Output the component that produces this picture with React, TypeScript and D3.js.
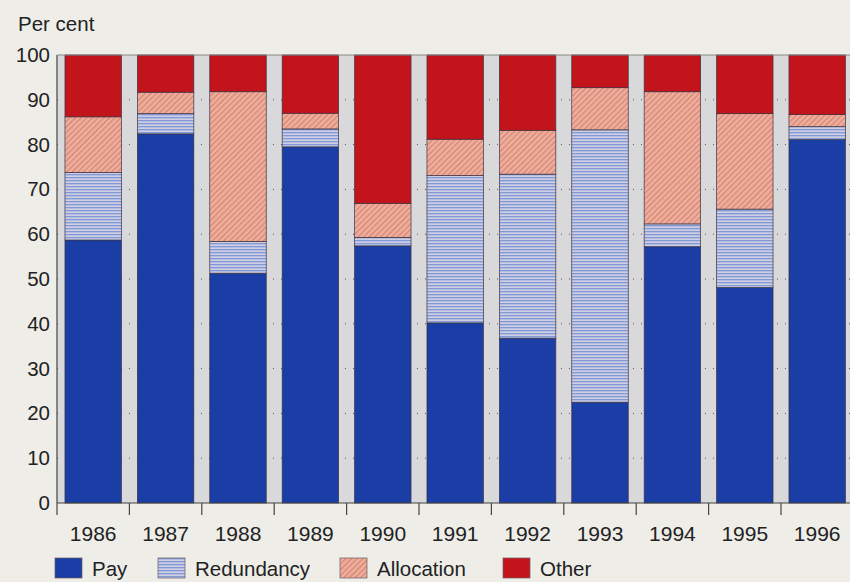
import * as d3 from 'd3';

const years = ['1986', '1987', '1988', '1989', '1990', '1991', '1992', '1993', '1994', '1995', '1996'];
const pay = [58.7, 82.4, 51.3, 79.5, 57.4, 40.2, 36.8, 22.5, 57.2, 48.1, 81.1];
const redundancy = [15.1, 4.5, 7.1, 4.0, 1.9, 32.9, 36.6, 60.8, 5.1, 17.5, 2.9];
const allocation = [12.4, 4.8, 33.4, 3.5, 7.6, 8.1, 9.8, 9.4, 29.5, 21.3, 2.7];
const other = years.map((_, i) => 100 - pay[i] - redundancy[i] - allocation[i]);
const seriesNames = ['Pay', 'Redundancy', 'Allocation', 'Other'];
const yTicks = [0, 10, 20, 30, 40, 50, 60, 70, 80, 90, 100];

const W = 850;
const H = 582;
const margin = { top: 55, left: 57, bottom: 79 };
const font = '"Liberation Sans", Arial, sans-serif';

const fills: Record<string, string> = {
    Pay: '#1a3ea6',
    Redundancy: 'url(#redund)',
    Allocation: 'url(#alloc)',
    Other: '#c3141c',
};

export default function App() {
    const rows = years.map((year, i) => ({
        year,
        Pay: pay[i],
        Redundancy: redundancy[i],
        Allocation: allocation[i],
        Other: other[i],
    }));
    const stacked = d3.stack<any>().keys(seriesNames)(rows);

    const x = d3
        .scaleBand()
        .domain(years)
        .range([margin.left, margin.left + 11 * 72.4])
        .paddingInner(0.22)
        .paddingOuter(0.11);
    const y = d3.scaleLinear().domain([0, 100]).range([H - margin.bottom, margin.top]);
    const step = x.step();
    const y0 = y(0);

    const legendX = [55, 158, 340, 503];

    return (
        <svg
            width={W}
            height={H}
            style={{ position: 'absolute', left: 0, top: 0, background: '#eeede8', fontFamily: font }}
        >
            <defs>
                <pattern id="redund" width="6" height="3" patternUnits="userSpaceOnUse">
                    <rect width="6" height="3" fill="#b7c1e4" />
                    <rect y="0" width="6" height="1.1" fill="#8299d8" />
                    <rect y="2" width="6" height="0.6" fill="#e4d6dc" />
                </pattern>
                <pattern id="alloc" width="4" height="4" patternUnits="userSpaceOnUse" patternTransform="rotate(45)">
                    <rect width="4" height="4" fill="#eeae9e" />
                    <rect width="1.2" height="4" fill="#d8846f" />
                </pattern>
            </defs>

            {/* plot background */}
            <rect x={margin.left} y={margin.top} width={W - margin.left} height={y0 - margin.top} fill="#d9d9db" />

            {/* dotted gridlines */}
            {yTicks.slice(1, -1).map((t) => (
                <line
                    key={t}
                    x1={margin.left}
                    x2={W}
                    y1={y(t)}
                    y2={y(t)}
                    stroke="#555"
                    strokeWidth={1}
                    strokeDasharray="1 7"
                />
            ))}

            {/* bars */}
            {stacked.map((s) =>
                s.map((d, i) => (
                    <rect
                        key={s.key + i}
                        x={x(years[i])}
                        y={y(d[1])}
                        width={x.bandwidth()}
                        height={y(d[0]) - y(d[1])}
                        fill={fills[s.key]}
                        stroke="#3a3440"
                        strokeWidth={0.7}
                    />
                ))
            )}

            {/* axes */}
            <line x1={margin.left} x2={margin.left} y1={margin.top} y2={y0 + 12} stroke="#444" strokeWidth={1.2} />
            <line x1={margin.left} x2={W} y1={y0} y2={y0} stroke="#444" strokeWidth={1.2} />
            <line x1={margin.left} x2={W} y1={margin.top} y2={margin.top} stroke="#888" strokeWidth={1} />
            {years.slice(1).map((yr) => (
                <line
                    key={yr}
                    x1={(x(yr) as number) - step * 0.11}
                    x2={(x(yr) as number) - step * 0.11}
                    y1={y0}
                    y2={y0 + 12}
                    stroke="#444"
                    strokeWidth={1.2}
                />
            ))}

            {/* y tick labels */}
            {yTicks.map((t) => (
                <text key={t} x={50} y={y(t) + 7} textAnchor="end" fontSize={20.5} fill="#222">
                    {t}
                </text>
            ))}
            <text x={18} y={31} fontSize={20.5} fill="#222">
                Per cent
            </text>

            {/* x tick labels */}
            {years.map((yr) => (
                <text
                    key={yr}
                    x={(x(yr) as number) + x.bandwidth() / 2}
                    y={541}
                    textAnchor="middle"
                    fontSize={21}
                    fill="#222"
                >
                    {yr}
                </text>
            ))}

            {/* legend */}
            {seriesNames.map((name, i) => (
                <g key={name} transform={`translate(${legendX[i]},558)`}>
                    <rect width={27} height={20} fill={fills[name]} stroke="#6a5a60" strokeWidth={0.7} />
                    <text x={37} y={18} fontSize={20.5} fill="#222">
                        {name}
                    </text>
                </g>
            ))}
        </svg>
    );
}
